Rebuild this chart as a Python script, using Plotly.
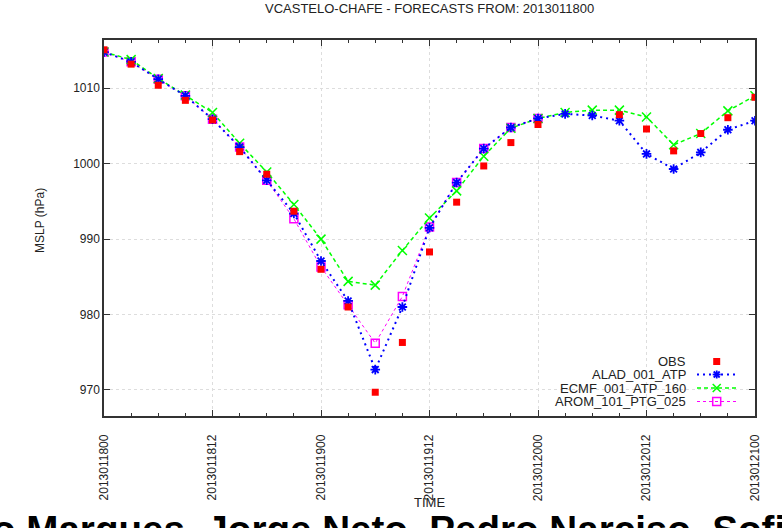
import plotly.graph_objects as go

# ---- data ----
hours = list(range(0, 73, 3))
obs = [1015.1, 1013.2, 1010.4, 1008.4, 1005.8, 1001.6, 998.6, 993.7, 986.0, 981.0,
       969.7, 976.3, 988.3, 994.9, 999.7, 1002.8, 1005.2, None, None, 1006.5,
       1004.6, 1001.7, 1004.0, 1006.1, 1008.8]
alad = [1014.8, 1013.5, 1011.2, 1009.0, 1005.9, 1002.2, 997.8, 993.4, 987.1, 981.8,
        972.7, 981.0, 991.5, 997.5, 1002.0, 1004.8, 1006.0, 1006.6, 1006.4, 1005.7,
        1001.3, 999.3, 1001.5, 1004.5, 1005.7]
ecmf = [1014.8, 1013.8, 1011.3, 1009.1, 1006.8, 1002.7, 998.9, 994.6, 990.0, 984.4,
        983.9, 988.5, 992.8, 996.4, 1001.0, 1004.7, 1006.0, 1006.8, 1007.1, 1007.1,
        1006.2, 1002.5, 1004.0, 1007.0, 1009.0]
arom = [1014.8, 1013.5, 1011.2, 1009.0, 1005.9, 1002.2, 997.8, 992.7, 986.3, 981.3,
        976.2, 982.4, 991.6, 997.5, 1002.0, 1004.8, 1006.0]
tick_hours = [0, 12, 24, 36, 48, 60, 72]
tick_labels = ["2013011800", "2013011812", "2013011900", "2013011912",
               "2013012000", "2013012012", "2013012100"]
series_names = ["OBS", "ALAD_001_ATP", "ECMF_001_ATP_160", "AROM_101_PTG_025"]

RED, BLUE, GREEN, MAG = "#ff0000", "#0000ff", "#00ff00", "#ff00ff"
FONT = "Liberation Sans, Arial, sans-serif"

W, H = 782, 528
L, R, T, B = 104, 27, 40, 112
PW, PH = W - L - R, H - T - B


def px(x):
    return (x - L) / PW


def py(y):
    return (H - B - y) / PH


fig = go.Figure()
fig.add_trace(go.Scatter(x=hours[:len(arom)], y=arom, mode="lines+markers", name=series_names[3],
                         line=dict(color=MAG, width=1, dash="dot"),
                         marker=dict(symbol="square-open", size=8, color=MAG, line=dict(width=1.5, color=MAG))))
fig.add_trace(go.Scatter(x=hours, y=ecmf, mode="lines+markers", name=series_names[2],
                         line=dict(color=GREEN, width=1.5, dash="4px,3px"),
                         marker=dict(symbol="x-thin-open", size=9, color=GREEN, line=dict(width=1.5, color=GREEN))))
fig.add_trace(go.Scatter(x=hours, y=alad, mode="lines+markers", name=series_names[1],
                         line=dict(color=BLUE, width=2, dash="2px,4px"),
                         marker=dict(symbol="asterisk-open", size=8, color=BLUE, line=dict(width=1.8, color=BLUE))))
fig.add_trace(go.Scatter(x=hours, y=obs, mode="markers", name=series_names[0],
                         marker=dict(symbol="square", size=7, color=RED, line=dict(width=0))))

axis_common = dict(showline=True, linecolor="#333", linewidth=1.5, mirror="ticks",
                   ticks="inside", ticklen=6, tickcolor="#333", tickwidth=1,
                   showgrid=True, gridcolor="#dddddd", griddash="dot", gridwidth=1,
                   zeroline=False, tickfont=dict(family=FONT, size=12, color="#222"))

fig.update_xaxes(range=[0, 72], tickmode="array", tickvals=tick_hours, ticktext=tick_labels,
                 tickangle=-90, ticklabelstandoff=12,
                 minor=dict(dtick=3, tick0=0, ticks="inside", ticklen=3, tickcolor="#333", showgrid=False),
                 **axis_common)
fig.update_yaxes(range=[966.55, 1016.4], dtick=10, tick0=970, **axis_common)

annotations = [
    dict(text="VCASTELO-CHAFE - FORECASTS FROM: 2013011800", x=px(429.5), y=py(8),
         xref="paper", yref="paper", showarrow=False, xanchor="center", yanchor="middle",
         font=dict(family="Liberation Sans Narrow, " + FONT, size=13, color="#222")),
    dict(text="MSLP (hPa)", x=px(40), y=py(221), xref="paper", yref="paper", showarrow=False,
         textangle=-90, xanchor="center", yanchor="middle",
         font=dict(family=FONT, size=12, color="#222")),
    dict(text="TIME", x=px(429.5), y=py(502), xref="paper", yref="paper", showarrow=False,
         xanchor="center", yanchor="middle",
         font=dict(family="Liberation Sans Narrow, " + FONT, size=13, color="#222")),
    dict(text="<b>o Marques, Jorge Neto, Pedro Narciso, Sofi</b>", x=px(-10), y=py(506),
         xref="paper", yref="paper", showarrow=False, xanchor="left", yanchor="top",
         font=dict(family=FONT, size=38.6, color="#000")),
]

# custom gnuplot-style key (text on the left, sample on the right)
rows_y = [361.5, 374.5, 388, 401.5]
for name, yy in zip(series_names, rows_y):
    annotations.append(dict(text=name, x=px(688), y=py(yy), xref="paper", yref="paper",
                            showarrow=False, xanchor="right", yanchor="middle",
                            font=dict(family=FONT, size=13, color="#222")))

shapes = []
for col, dash, wdt, yy in [(BLUE, "2px,4px", 2, rows_y[1]), (GREEN, "4px,3px", 1.5, rows_y[2]),
                           (MAG, "dot", 1, rows_y[3])]:
    shapes.append(dict(type="line", xref="paper", yref="paper", x0=px(697), x1=px(737), y0=py(yy), y1=py(yy),
                       line=dict(color=col, width=wdt, dash=dash)))
mx = 716.7
shapes.append(dict(type="rect", xref="paper", yref="paper", x0=px(mx - 3.5), x1=px(mx + 3.5),
                   y0=py(rows_y[0] + 3.5), y1=py(rows_y[0] - 3.5), fillcolor=RED, line=dict(width=0)))
for dx0, dy0, dx1, dy1 in [(-4, 0, 4, 0), (0, -4, 0, 4), (-3, -3, 3, 3), (-3, 3, 3, -3)]:
    shapes.append(dict(type="line", xref="paper", yref="paper", x0=px(mx + dx0), x1=px(mx + dx1),
                       y0=py(rows_y[1] + dy0), y1=py(rows_y[1] + dy1), line=dict(color=BLUE, width=1.8)))
for dx0, dy0, dx1, dy1 in [(-4, -4, 4, 4), (-4, 4, 4, -4)]:
    shapes.append(dict(type="line", xref="paper", yref="paper", x0=px(mx + dx0), x1=px(mx + dx1),
                       y0=py(rows_y[2] + dy0), y1=py(rows_y[2] + dy1), line=dict(color=GREEN, width=1.5)))
shapes.append(dict(type="rect", xref="paper", yref="paper", x0=px(mx - 4), x1=px(mx + 4),
                   y0=py(rows_y[3] + 4), y1=py(rows_y[3] - 4), fillcolor="rgba(0,0,0,0)",
                   line=dict(color=MAG, width=1.5)))

fig.update_layout(width=W, height=H, margin=dict(l=L, r=R, t=T, b=B, pad=0),
                  paper_bgcolor="white", plot_bgcolor="white", showlegend=False,
                  annotations=annotations, shapes=shapes)

fig.write_html("out.html", config={"displayModeBar": False},
               post_script="document.body.style.margin='0';document.body.style.padding='0';"
                           "document.documentElement.style.overflow='hidden';")
